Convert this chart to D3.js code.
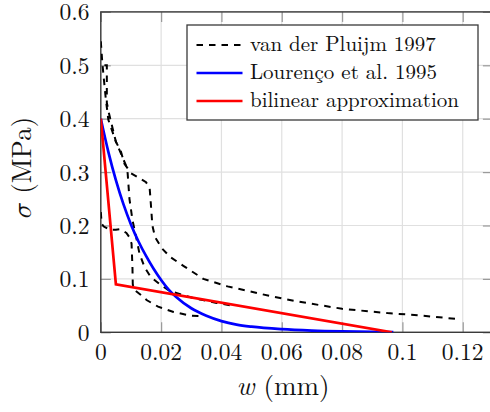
<!DOCTYPE html>
<html><head><meta charset="utf-8">
<script src="https://cdn.jsdelivr.net/npm/d3@7"></script>
<style>
html,body{margin:0;padding:0;background:#fff;}
</style></head>
<body><svg id="c" width="490" height="412"></svg>
<script>
// ---- data ----
const xTicks = [0, 0.02, 0.04, 0.06, 0.08, 0.1, 0.12];
const xTickLabels = ["0", "0.02", "0.04", "0.06", "0.08", "0.1", "0.12"];
const yTicks = [0, 0.1, 0.2, 0.3, 0.4, 0.5, 0.6];
const yTickLabels = ["0", "0.1", "0.2", "0.3", "0.4", "0.5", "0.6"];
const seriesNames = ["van der Pluijm 1997", "Lourenço et al. 1995", "bilinear approximation"];

// van der Pluijm 1997 experimental curves [w (mm), sigma (MPa)]
const pluijmA = [[0,0.545],[0.0005,0.505],[0.001,0.475],[0.0017,0.435],[0.0025,0.398],[0.005,0.357],
  [0.0067,0.338],[0.0078,0.316],[0.01,0.298],[0.013,0.288],[0.015,0.281],[0.0162,0.27],[0.0166,0.24],
  [0.0171,0.2],[0.018,0.178],[0.0203,0.157],[0.023,0.141],[0.0275,0.124],[0.034,0.1],[0.042,0.086],
  [0.05,0.076],[0.056,0.068],[0.065,0.058],[0.08,0.044],[0.095,0.036],[0.105,0.032],[0.118,0.025]];
const pluijmB = [[0.0012,0.5],[0.002,0.5],[0.002,0.43],[0.0027,0.41],[0.005,0.357],[0.0083,0.313],
  [0.0089,0.298],[0.0095,0.25],[0.0105,0.21],[0.0117,0.179],[0.0128,0.148],[0.0145,0.122],
  [0.0165,0.104],[0.02,0.088],[0.023,0.077],[0.0307,0.064],[0.0384,0.055],[0.0435,0.05]];
const pluijmC = [[0,0.225],[0.0003,0.203],[0.001,0.198],[0.003,0.192],[0.005,0.192],[0.0063,0.193],
  [0.0085,0.186],[0.0095,0.178],[0.0102,0.166],[0.0105,0.12],[0.0106,0.09],[0.011,0.08],
  [0.0133,0.07],[0.0153,0.06],[0.019,0.048],[0.0241,0.038],[0.03,0.031],[0.034,0.03]];
const pluijmCurves = [pluijmA, pluijmB, pluijmC];

// Lourenço et al. 1995 softening curve
const lourenco = [[0,0.4],[0.0025,0.338],[0.005,0.285],[0.0075,0.24],[0.01,0.202],[0.0125,0.17],
  [0.015,0.143],[0.0175,0.119],[0.02,0.098],[0.0225,0.08],[0.025,0.066],[0.03,0.045],[0.035,0.031],
  [0.04,0.021],[0.045,0.0145],[0.05,0.0105],[0.06,0.0058],[0.07,0.0032],[0.08,0.0017],[0.09,0.0008],
  [0.097,0.0004]];

// bilinear approximation
const bilinear = [[0,0.4],[0.005,0.09],[0.0965,0]];

// ---- layout ----
const FONT = "'Latin Modern Roman','CMU Serif','DejaVu Serif',serif";
const MATH = "'Latin Modern Math','Latin Modern Roman','DejaVu Serif',serif";
const svg = d3.select("#c");
const L = 100.8, R = 492.9, T = 11.9, B = 332.3;
const x = d3.scaleLinear().domain([0, 0.13]).range([L, R]);
const y = d3.scaleLinear().domain([0, 0.6]).range([B, T]);

svg.append("defs").append("clipPath").attr("id","clip")
  .append("rect").attr("x",L).attr("y",T).attr("width",R-L).attr("height",B-T);

// grid
const g = svg.append("g");
g.selectAll(".gx").data(xTicks).enter().append("line")
  .attr("x1",d=>x(d)).attr("x2",d=>x(d)).attr("y1",T).attr("y2",B)
  .attr("stroke","#e0e0e0").attr("stroke-width",1.2);
g.selectAll(".gy").data(yTicks).enter().append("line")
  .attr("x1",L).attr("x2",R).attr("y1",d=>y(d)).attr("y2",d=>y(d))
  .attr("stroke","#e0e0e0").attr("stroke-width",1.2);

// axes (ticks inside, grey)
const tl = 10;
const axB = d3.axisBottom(x).tickValues(xTicks).tickSize(-tl).tickFormat("");
const axT = d3.axisTop(x).tickValues(xTicks).tickSize(-tl).tickFormat("");
const axLft = d3.axisLeft(y).tickValues(yTicks).tickSize(-tl).tickFormat("");
const axRt = d3.axisRight(y).tickValues(yTicks).tickSize(-tl).tickFormat("");
function styleAx(sel){ sel.select(".domain").remove(); sel.selectAll(".tick line").attr("stroke","#9a9a9a").attr("stroke-width",1.2); }
svg.append("g").attr("transform",`translate(0,${B})`).call(axB).call(styleAx);
svg.append("g").attr("transform",`translate(0,${T})`).call(axT).call(styleAx);
svg.append("g").attr("transform",`translate(${L},0)`).call(axLft).call(styleAx);
svg.append("g").attr("transform",`translate(${R},0)`).call(axRt).call(styleAx);

// frame
svg.append("rect").attr("x",L).attr("y",T).attr("width",R-L).attr("height",B-T)
  .attr("fill","none").attr("stroke","#3a3a3a").attr("stroke-width",1.4);

// tick labels
svg.selectAll(".xl").data(xTicks).enter().append("text")
  .attr("x",d=>x(d)).attr("y",360).attr("text-anchor","middle").attr("font-family",FONT)
  .attr("font-size",23.5).attr("fill","#111").text((d,i)=>xTickLabels[i]);
svg.selectAll(".yl").data(yTicks).enter().append("text")
  .attr("x",89.5).attr("y",d=>y(d)+8.5).attr("text-anchor","end").attr("font-family",FONT)
  .attr("font-size",23.5).attr("fill","#111").text((d,i)=>yTickLabels[i]);

// axis titles
const xt = svg.append("text").attr("x",283).attr("y",395).attr("text-anchor","middle")
  .attr("font-family",FONT).attr("font-size",27).attr("fill","#111");
xt.append("tspan").attr("font-style","italic").text("w");
xt.append("tspan").text(" (mm)");
const yt = svg.append("text").attr("transform","translate(31,167.5) rotate(-90)").attr("text-anchor","middle")
  .attr("font-family",FONT).attr("font-size",27).attr("fill","#111");
yt.append("tspan").attr("font-family",MATH).text("\u{1D70E}");
yt.append("tspan").text(" (MPa)");

// lines
const line = d3.line().x(d=>x(d[0])).y(d=>y(d[1]));
const lineSmooth = d3.line().x(d=>x(d[0])).y(d=>y(d[1])).curve(d3.curveMonotoneX);
const plot = svg.append("g").attr("clip-path","url(#clip)");
plot.selectAll(".pl").data(pluijmCurves).enter().append("path")
  .attr("d",line).attr("fill","none").attr("stroke","#000").attr("stroke-width",2)
  .attr("stroke-dasharray","6.5,6");
plot.append("path").datum(lourenco).attr("d",lineSmooth).attr("fill","none")
  .attr("stroke","#0000ff").attr("stroke-width",2.7);
plot.append("path").datum(bilinear).attr("d",line).attr("fill","none")
  .attr("stroke","#ff0000").attr("stroke-width",2.7).attr("stroke-linejoin","miter");

// legend
const lg = svg.append("g");
lg.append("rect").attr("x",187).attr("y",25).attr("width",291).attr("height",95)
  .attr("fill","#fff").attr("stroke","#3a3a3a").attr("stroke-width",1.3);
const legStyles = [
  {c:"#000", w:2, dash:"6.5,6"},
  {c:"#0000ff", w:2.7, dash:null},
  {c:"#ff0000", w:2.7, dash:null}];
const rowY = [45, 73, 101];
seriesNames.forEach((n,i)=>{
  const s = legStyles[i];
  const l = lg.append("line").attr("x1",196.5).attr("x2",242.5).attr("y1",rowY[i]).attr("y2",rowY[i])
    .attr("stroke",s.c).attr("stroke-width",s.w);
  if (s.dash) l.attr("stroke-dasharray",s.dash);
  lg.append("text").attr("x",250).attr("y",rowY[i]+5.5).attr("font-family",FONT)
    .attr("font-size",21).attr("fill","#111").text(n);
});
</script></body></html>
